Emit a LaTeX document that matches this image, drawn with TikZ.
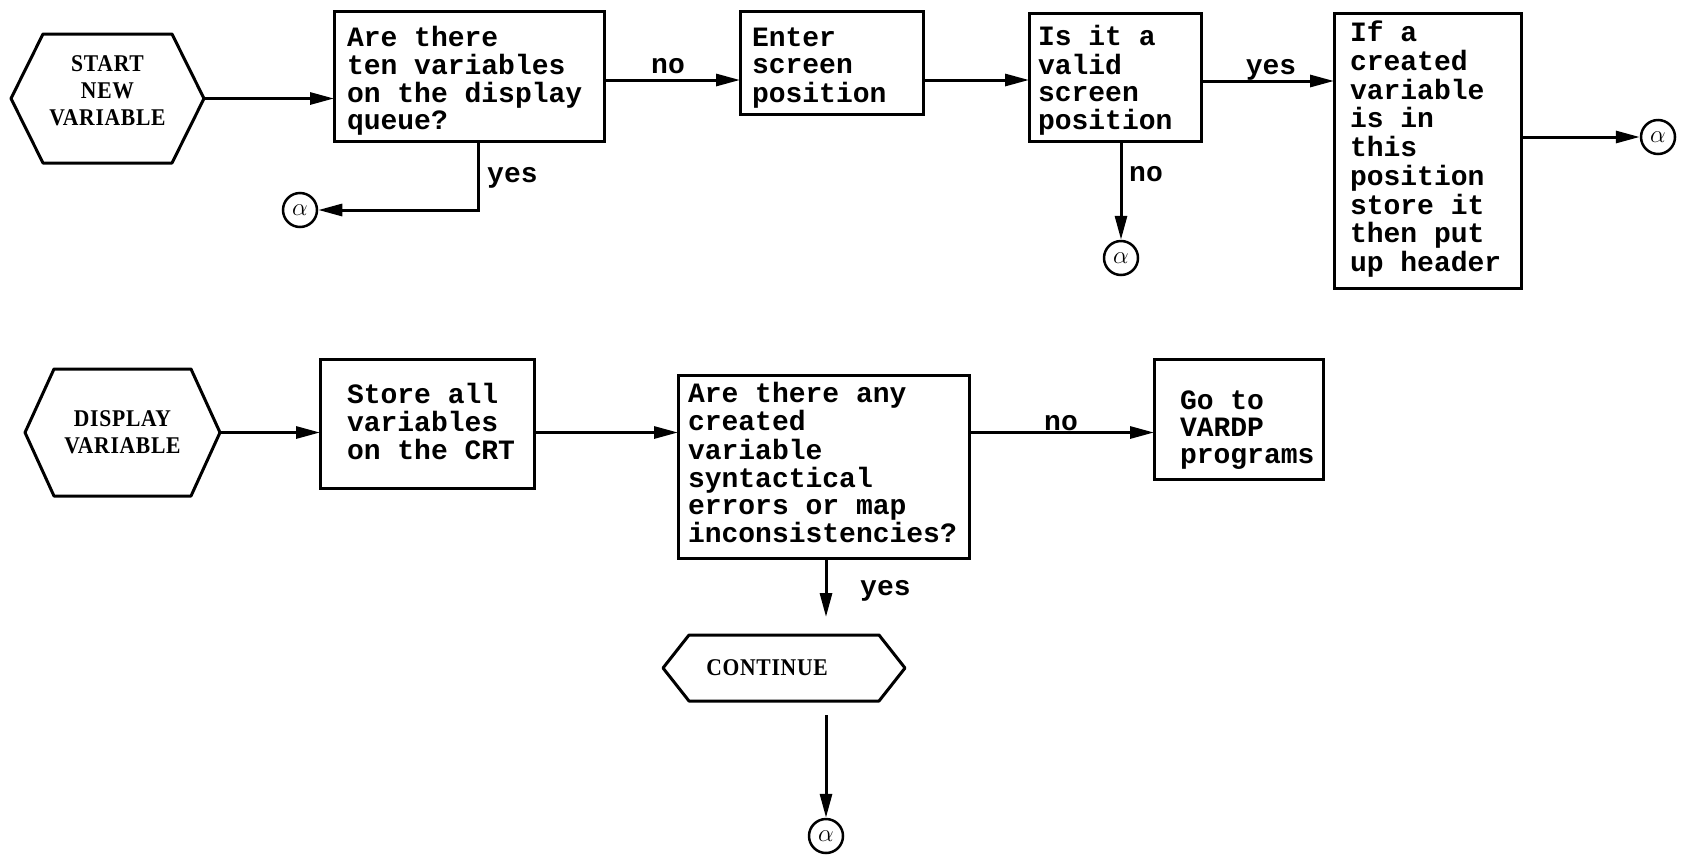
\documentclass[tikz,border=0pt]{standalone}
\usepackage{fontspec}
\newfontfamily\tw{Liberation Mono}
\newfontfamily\hx{Liberation Serif}[FakeStretch=0.9,LetterSpace=3]
\usetikzlibrary{arrows.meta,calc}
\newcommand\btext[5]{\makebox[#1pt][l]{\hspace{#2pt}\raisebox{-#3pt}[\height][\depth]{\fontsize{28}{#4}\selectfont\begin{tabular}{@{}l@{}}#5\end{tabular}}}}
\newcommand\hexline[2]{\draw[ln] (#1.west) -- ([xshift=#2pt]#1.north west) -- ([xshift=-#2pt]#1.north east) -- (#1.east) -- ([xshift=-#2pt]#1.south east) -- ([xshift=#2pt]#1.south west) -- cycle;}
\tikzset{
  ln/.style={line width=3pt, line join=round},
  box/.style={draw, line width=3pt, inner sep=0pt, outer sep=0pt, font=\tw\bfseries\fontsize{28}{27}\selectfont},
  hexn/.style={inner sep=0pt, outer sep=0pt, align=center, font=\hx\bfseries\fontsize{24}{27}\selectfont},
  arr/.style={line width=3pt, -{Triangle[length=24pt,width=12pt]}},
  lbl/.style={inner sep=0pt, font=\tw\bfseries\fontsize{28}{27}\selectfont},
  conn/.style={circle, draw, line width=2.5pt, minimum size=34pt, inner sep=0pt, font=\fontsize{26}{26}\selectfont}
}
\begin{document}
\begin{tikzpicture}[x=1pt,y=-1pt]
\useasboundingbox (0,0) rectangle (1685,857);
% row 1
\node[hexn, minimum width=193pt, minimum height=129pt] (h1) at (107.5,98.5) {\raisebox{5pt}[\height][\depth]{\begin{tabular}{@{}c@{}}START\\NEW\\VARIABLE\end{tabular}}};
\hexline{h1}{32}
\node[box, minimum height=130pt] (b1) at (469,76) {\btext{270}{13}{6}{27}{Are there\\ten variables\\on the display\\queue?}};
\node[box, minimum height=103pt] (b2) at (831.5,62.5) {\btext{183}{12}{6.5}{27}{Enter\\screen\\position}};
\node[box, minimum height=128pt] (b3) at (1115,77) {\btext{172}{9}{4.5}{27}{Is it a\\valid\\screen\\position}};
\node[box, minimum height=275pt] (b4) at (1427.5,150.5) {\btext{187}{16}{0}{28}{If a\\created\\variable\\is in\\this\\position\\store it\\then put\\up header}};
\node[conn] (c1) at (300,210) {$\alpha$};
\node[conn] (c2) at (1121,258) {$\alpha$};
\node[conn] (c3) at (1658,137) {$\alpha$};
\draw[arr] (h1.east) -- (h1.east -| b1.west);
\draw[arr] ([yshift=-4pt]b1.east) -- ([yshift=-4pt]b1.east -| b2.west);
\draw[arr] ([yshift=-17.5pt]b2.east) -- ([yshift=-17.5pt]b2.east -| b3.west);
\draw[arr] ([yshift=-4pt]b3.east) -- ([yshift=-4pt]b3.east -| b4.west);
\draw[arr] (b4.east |- c3) -- (c3.west);
\draw[arr] ([xshift=9pt]b1.south) |- (c1.east);
\draw[arr] (b3.south -| c2.north) -- (c2.north);
\node[lbl] (l1) at (668,66) {no};
\node[lbl, anchor=west] (l2) at (487,178) {yes};
\node[lbl] (l3) at (1271,70) {yes};
\node[lbl, anchor=west] (l4) at (1129,174) {no};
% row 2
\node[hexn, minimum width=195pt, minimum height=127pt] (h2) at (122.5,432.5) {DISPLAY\\VARIABLE};
\hexline{h2}{29}
\node[box, minimum height=129pt] (b5) at (427,423.5) {\btext{214}{27}{2}{27}{Store all\\variables\\on the CRT}};
\node[box, minimum height=183pt] (b6) at (823.5,466.5) {\btext{291}{10}{0}{27}{Are there any\\created\\variable\\syntactical\\errors or map\\inconsistencies?}};
\node[box, minimum height=120pt] (b7) at (1238.5,419) {\btext{169}{26}{12}{27}{Go to\\VARDP\\programs}};
\node[hexn, minimum width=242pt, minimum height=66pt] (h3) at (784,668) {\hspace*{-34pt}CONTINUE};
\hexline{h3}{26}
\node[conn] (c4) at (826,836) {$\alpha$};
\draw[arr] (h2.east) -- (h2.east -| b5.west);
\draw[arr] (b5.east |- h2.east) -- (b6.west |- h2.east);
\draw[arr] (b6.east |- h2.east) -- (b7.west |- h2.east);
\draw[arr] (b6.south -| c4.north) -- ([yshift=18pt]h3.north -| c4.north);
\draw[arr] ([yshift=-14pt]h3.south -| c4.north) -- (c4.north);
\node[lbl] (l5) at (1061,423) {no};
\node[lbl, anchor=west] (l6) at (860,591) {yes};
\end{tikzpicture}
\end{document}
